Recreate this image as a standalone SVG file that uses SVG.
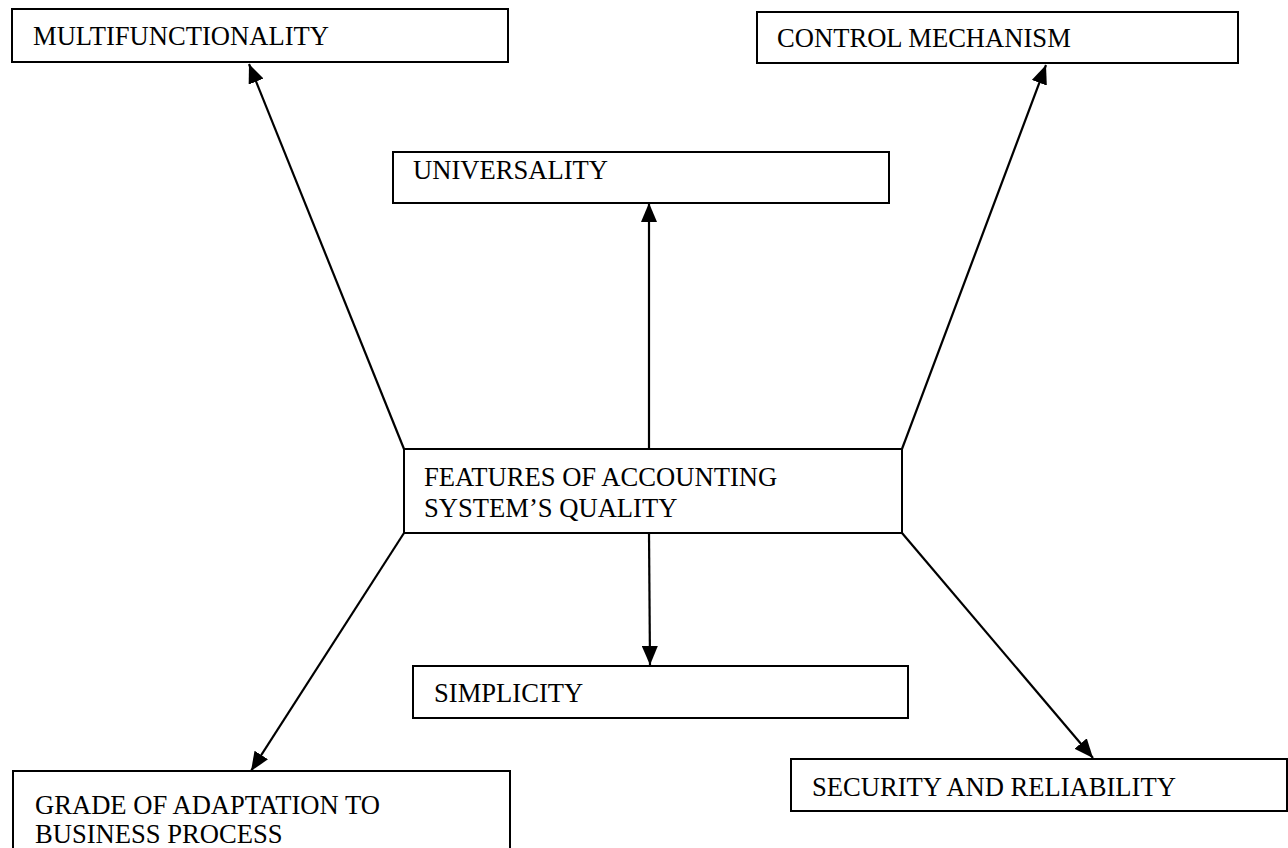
<svg xmlns="http://www.w3.org/2000/svg" width="1288" height="848" viewBox="0 0 1288 848">
<style>
.box{fill:#fff;stroke:#000;stroke-width:2}
.lbl{font-family:"Liberation Serif","Times New Roman",serif;font-size:26.6px;fill:#000}
.conn{stroke:#000;stroke-width:2.2;fill:none;marker-end:url(#arr)}
</style>
<defs>
<marker id="arr" markerUnits="userSpaceOnUse" markerWidth="20" markerHeight="16" refX="19" refY="8" orient="auto">
<path d="M0,0 L19,8 L0,16 z" fill="#000"/>
</marker>
</defs>
<rect width="1288" height="848" fill="#fff"/>
<g id="connectors">
<line class="conn" x1="404" y1="449" x2="249" y2="64"/>
<line class="conn" x1="649" y1="449" x2="649" y2="203"/>
<line class="conn" x1="902" y1="449" x2="1046" y2="65"/>
<line class="conn" x1="404" y1="533" x2="251" y2="771"/>
<line class="conn" x1="649" y1="533" x2="650" y2="665"/>
<line class="conn" x1="902" y1="533" x2="1093" y2="758"/>
</g>
<g id="multifunctionality">
<rect class="box" x="12" y="9" width="496" height="53"/>
<text class="lbl" x="33" y="45">MULTIFUNCTIONALITY</text>
</g>
<g id="control">
<rect class="box" x="757" y="12" width="481" height="51"/>
<text class="lbl" x="777" y="47">CONTROL MECHANISM</text>
</g>
<g id="universality">
<rect class="box" x="393" y="152" width="496" height="51"/>
<text class="lbl" x="413" y="179">UNIVERSALITY</text>
</g>
<g id="features">
<rect class="box" x="404" y="449" width="498" height="84"/>
<text class="lbl" x="424" y="486">FEATURES OF ACCOUNTING</text>
<text class="lbl" x="424" y="517">SYSTEM’S QUALITY</text>
</g>
<g id="simplicity">
<rect class="box" x="413" y="666" width="495" height="52"/>
<text class="lbl" x="434" y="702">SIMPLICITY</text>
</g>
<g id="grade">
<rect class="box" x="13" y="771" width="497" height="90"/>
<text class="lbl" x="35" y="814">GRADE OF ADAPTATION TO</text>
<text class="lbl" x="35" y="843">BUSINESS PROCESS</text>
</g>
<g id="security">
<rect class="box" x="791" y="759" width="496" height="52"/>
<text class="lbl" x="812" y="796">SECURITY AND RELIABILITY</text>
</g>
</svg>
